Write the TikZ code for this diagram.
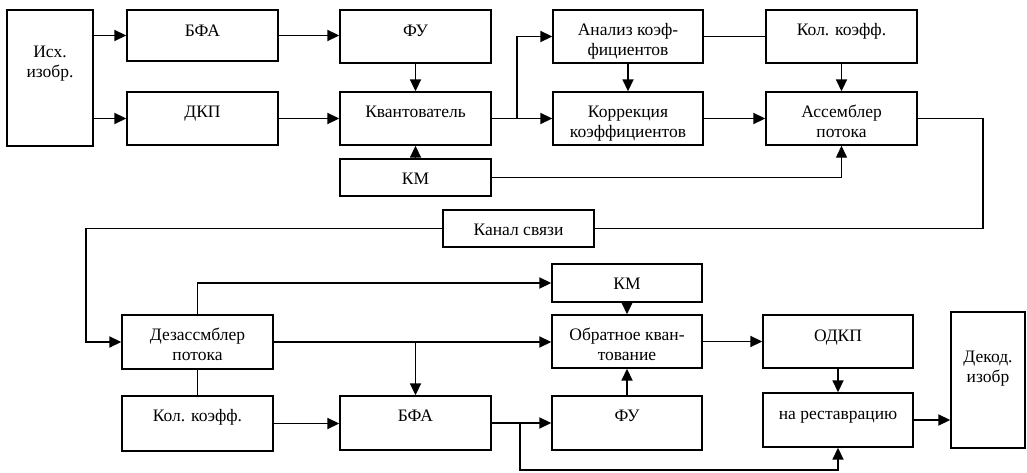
\documentclass[tikz,border=0pt]{standalone}
\usepackage{fontspec}
\setmainfont{Liberation Serif}
\usetikzlibrary{arrows.meta}
\begin{document}
\begin{tikzpicture}[x=1pt,y=-1pt,
  box/.style={draw, line width=1.4pt, inner sep=0pt},
  lbl/.style={anchor=north, inner sep=0pt, align=center, font=\fontsize{17.5}{20}\selectfont},
  arr/.style={line width=1.8pt, -{Triangle[length=12pt,width=11pt]}},
  arrthin/.style={line width=1.3pt, -{Triangle[length=12pt,width=11pt]}},
  ln/.style={line width=1.8pt},
  thinln/.style={line width=1.3pt}]
\useasboundingbox (0,0) rectangle (1027,473);
% boxes
\node[box, minimum width=86pt, minimum height=136pt] (src) at (50,78) {};
\node[box, minimum width=151pt, minimum height=51pt] (bfa1) at (202.5,35.5) {};
\node[box, minimum width=151pt, minimum height=53pt] (dkp) at (202.5,118.5) {};
\node[box, minimum width=151pt, minimum height=53pt] (fu1) at (415.5,36.5) {};
\node[box, minimum width=151pt, minimum height=53pt] (quant) at (415.5,118.5) {};
\node[box, minimum width=151pt, minimum height=37pt] (km1) at (415.5,177.5) {};
\node[box, minimum width=150pt, minimum height=53pt] (anal) at (628,36.5) {};
\node[box, minimum width=150pt, minimum height=53pt] (corr) at (628,118.5) {};
\node[box, minimum width=151pt, minimum height=53pt] (kk1) at (841.5,36.5) {};
\node[box, minimum width=151pt, minimum height=53pt] (asm) at (841.5,118.5) {};
\node[box, minimum width=151pt, minimum height=37pt] (chan) at (518.5,228.5) {};
\node[box, minimum width=151pt, minimum height=54pt] (desasm) at (197.5,342) {};
\node[box, minimum width=151pt, minimum height=55pt] (kk2) at (197.5,423.5) {};
\node[box, minimum width=151pt, minimum height=54pt] (bfa2) at (415.5,423) {};
\node[box, minimum width=150pt, minimum height=38pt] (km2) at (627,283) {};
\node[box, minimum width=150pt, minimum height=53pt] (iq) at (627,341.5) {};
\node[box, minimum width=150pt, minimum height=54pt] (fu2) at (627,423) {};
\node[box, minimum width=150pt, minimum height=53pt] (idct) at (838,341.5) {};
\node[box, minimum width=150pt, minimum height=54pt] (rest) at (838,420) {};
\node[box, minimum width=74pt, minimum height=136pt] (dec) at (988,380) {};
% labels
\node[lbl] (srcT) at (50,43) {\strut Исх.\\изобр.};
\node[lbl] (bfa1T) at (202.5,22) {\strut БФА};
\node[lbl] (dkpT) at (202.5,103) {\strut ДКП};
\node[lbl] (fu1T) at (415.5,22) {\strut ФУ};
\node[lbl] (quantT) at (415.5,103) {\strut Квантователь};
\node[lbl] (km1T) at (415.5,170) {\strut КМ};
\node[lbl] (analT) at (628,21) {\strut Анализ коэф-\\фициентов};
\node[lbl] (corrT) at (628,103) {\strut Коррекция\\коэффициентов};
\node[lbl] (kk1T) at (841.5,21) {\strut Кол. коэфф.};
\node[lbl] (asmT) at (841.5,103) {\strut Ассемблер\\потока};
\node[lbl] (chanT) at (518.5,221) {\strut Канал связи};
\node[lbl] (desT) at (197.5,326) {\strut Дезассмблер\\потока};
\node[lbl] (kk2T) at (197.5,407) {\strut Кол. коэфф.};
\node[lbl] (bfa2T) at (415.5,407) {\strut БФА};
\node[lbl] (km2T) at (627,275) {\strut КМ};
\node[lbl] (iqT) at (627,326) {\strut Обратное кван-\\тование};
\node[lbl] (fu2T) at (627,407) {\strut ФУ};
\node[lbl] (idctT) at (838,327) {\strut ОДКП};
\node[lbl] (restT) at (838,405) {\strut на реставрацию};
\node[lbl] (decT) at (988,348) {\strut Декод.\\изобр};
% helper coordinates
\coordinate (split1) at (517,118.5);
\coordinate (r1) at (983,228.5);
\coordinate (l1) at (86,228.5);
\coordinate (b1) at (520,470);
% connectors
\draw[arr] (src.east |- bfa1.west) -- (bfa1.west);
\draw[arr] (src.east |- dkp.west) -- (dkp.west);
\draw[arr] (bfa1.east) -- (bfa1.east -| fu1.west);
\draw[arr] (dkp.east) -- (quant.west);
\draw[arr] (fu1.south) -- (quant.north);
\draw[arr] (km1.north) -- (quant.south);
\draw[arr] (quant.east) -- (corr.west);
\draw[arr] (split1) |- (anal.west);
\draw[arr] (anal.south) -- (corr.north);
\draw[thinln] (anal.east) -- (kk1.west);
\draw[arr] (kk1.south) -- (asm.north);
\draw[arr] (corr.east) -- (asm.west);
\draw[arrthin] (km1.east) -| (asm.south);
\draw[thinln] (asm.east) -| (r1) -- (chan.east);
\draw[arr] (chan.west) -- (l1) |- (desasm.west);
\draw[arr] (desasm.north) |- (km2.west);
\draw[arr] (desasm.east) -- (desasm.east -| iq.west);
\draw[arr] (desasm.east -| bfa2.north) -- (bfa2.north);
\draw[ln] (desasm.south) -- (kk2.north);
\draw[arr] (kk2.east) -- (kk2.east -| bfa2.west);
\draw[arr] (bfa2.east) -- (fu2.west);
\draw[arr] (bfa2.east -| b1) -- (b1) -| (rest.south);
\draw[arr] (km2.south) -- (iq.north);
\draw[arr] (fu2.north) -- (iq.south);
\draw[arr] (iq.east) -- (idct.west);
\draw[arr] (idct.south) -- (rest.north);
\draw[arr] (rest.east) -- (rest.east -| dec.west);
\end{tikzpicture}
\end{document}
